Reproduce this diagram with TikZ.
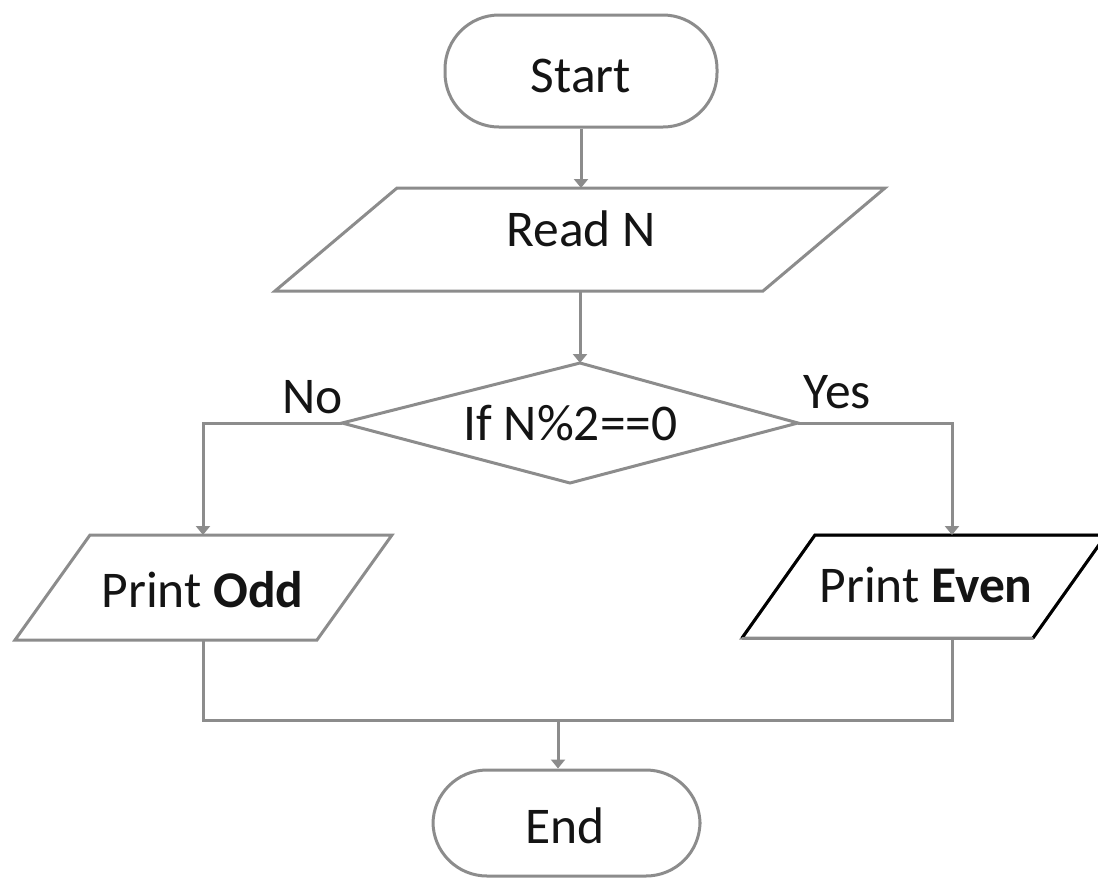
\documentclass[tikz,border=0pt]{standalone}
\usepackage{fontspec}
\setmainfont{Carlito}
\usetikzlibrary{arrows.meta,calc}
\definecolor{ln}{RGB}{140,140,140}
\definecolor{txt}{RGB}{20,20,20}
\begin{document}
\begin{tikzpicture}[x=1pt,y=-1pt,
  line/.style={draw=ln, line width=3pt, line join=miter},
  arr/.style={line, -{Triangle[width=14pt,length=9pt]}},
  blackline/.style={draw=black, line width=3pt, line join=miter},
  lbl/.style={font=\fontsize{51.5}{60}\selectfont, text=txt, inner sep=0pt, anchor=base},
  term/.style={line, fill=white, rounded corners=54pt, inner sep=0pt}
]
\useasboundingbox (0,0) rectangle (1098,879);

% Start terminal
\node[term, minimum width=272pt, minimum height=112pt] (start) at (581,71) {};
\node[lbl] (starttxt) at (581,92) {Start};

% Read N parallelogram
\coordinate (readt) at (581,188);
\coordinate (readb) at (580,291);
\draw[line, fill=white] (397,188) -- (885,188) -- (763,291) -- (275,291) -- cycle;
\node[lbl] (readtxt) at (581,246) {Read N};

% Decision diamond
\coordinate (dtop) at (580,363);
\coordinate (dbot) at (570,483);
\coordinate (dleft) at (342,423);
\coordinate (dright) at (798,423);
\draw[line, fill=white] (dtop) -- (dright) -- (dbot) -- (dleft) -- cycle;
\node[lbl] (dectxt) at (570.5,440) {If N\%2==0};

% labels
\node[lbl] (no) at (312.5,413) {No};
\node[lbl] (yes) at (837.5,408) {Yes};

% Print Odd
\coordinate (oddt) at (203,535);
\coordinate (oddb) at (203,640);
\draw[line, fill=white] (90,535) -- (392,535) -- (317,640) -- (15,640) -- cycle;
\node[lbl] (oddtxt) at (202.5,607) {Print \textbf{Odd}};

% Print Even
\coordinate (event) at (952,535);
\coordinate (evenb) at (952,638);
\draw[line, fill=white] (815,535) -- (1106,535) -- (1033,638) -- (742,638) -- cycle;
\draw[blackline] (742,638) -- (815,535) -- (1106,535) -- (1033,638);
\draw[line] (742,638) -- (1033,638);
\node[lbl] (eventxt) at (926,602) {Print \textbf{Even}};

% End terminal
\node[term, minimum width=267pt, minimum height=106pt] (end) at (566.5,823) {};
\node[lbl] (endtxt) at (565,843) {End};

% connectors
\coordinate (merge) at (558,720);
\draw[arr] (start.south) -- (readt);
\draw[arr] (readb) -- (dtop);
\draw[arr] (dleft) -| (oddt);
\draw[arr] (dright) -| (event);
\draw[line] (oddb) |- (merge) -| (evenb);
\draw[arr] (merge) -- (merge |- end.north);
\end{tikzpicture}
\end{document}
